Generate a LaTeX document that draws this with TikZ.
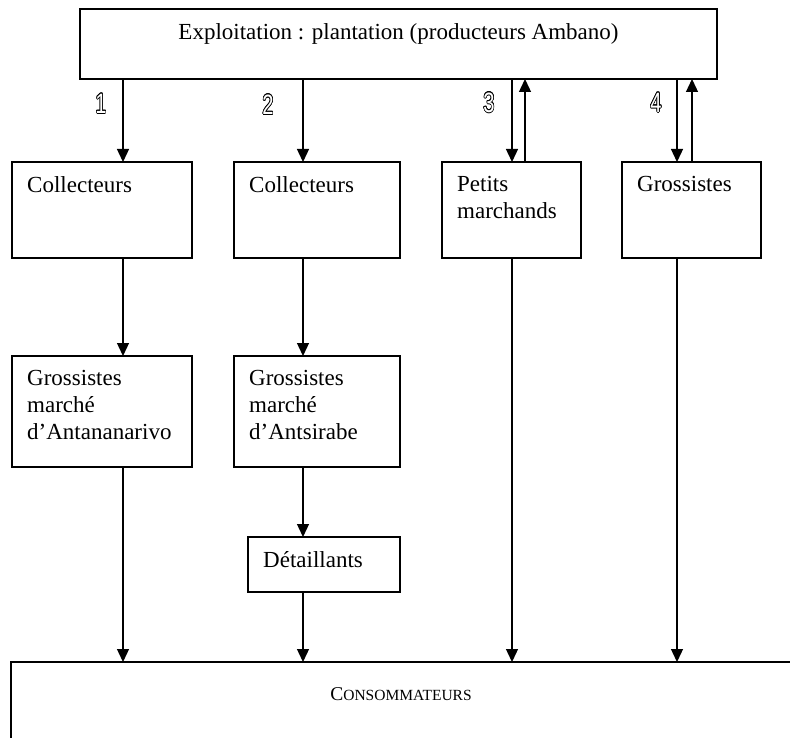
\documentclass[tikz,border=0pt]{standalone}
\usepackage{fontspec}
\setmainfont{Liberation Serif}
\newfontfamily\chiffrefont{Liberation Sans}
\usepackage{contour}
\usetikzlibrary{arrows.meta,calc}

\contourlength{0.8pt}
\newcommand{\numcanal}[1]{{\chiffrefont\fontsize{28}{28}\selectfont\scalebox{0.72}[1]{\color{white}\contour{black}{#1}}}}

\tikzset{
  boite/.style={draw, line width=1.3pt, anchor=north west, inner sep=0pt, outer sep=0pt},
  texte/.style={anchor=north west, inner sep=0pt, align=left, font=\fontsize{23}{26.7}\selectfont},
  fleche/.style={line width=1.3pt, -{Triangle[length=13pt,width=12pt]}}
}

\begin{document}
\begin{tikzpicture}[x=1pt, y=-1pt]
\useasboundingbox (0,0) rectangle (790,738);
\clip (0,0) rectangle (790,738);

    % Draw the plantation box
    \node[boite, minimum width=637pt, minimum height=70pt] (expl) at (80,9) {};
    \node[anchor=base, inner sep=0pt, font=\fontsize{23}{26.7}\selectfont] (explT) at (398.5,40) {Exploitation : plantation (producteurs Ambano)};

    % Draw the first row
    \node[boite, minimum width=180pt, minimum height=96pt] (colA) at (12,162) {};
    \node[boite, minimum width=166pt, minimum height=96pt] (colB) at (234,162) {};
    \node[boite, minimum width=139pt, minimum height=96pt] (petits) at (442,162) {};
    \node[boite, minimum width=139pt, minimum height=96pt] (gros) at (622,162) {};
    \node[texte] (colAT) at ($(colA.north west)+(15,14.5)$) {Collecteurs};
    \node[texte] (colBT) at ($(colB.north west)+(15,14.5)$) {Collecteurs};
    \node[texte] (petitsT) at ($(petits.north west)+(15,14.5)$) {Petits\\marchands};
    \node[texte] (grosT) at ($(gros.north west)+(15,14.5)$) {Grossistes};

    % Draw the market wholesalers
    \node[boite, minimum width=180pt, minimum height=111pt] (grosA) at (12,356) {};
    \node[boite, minimum width=166pt, minimum height=111pt] (grosB) at (234,356) {};
    \node[texte] (grosAT) at ($(grosA.north west)+(15,14.5)$) {Grossistes\\march\'e\\d'Antananarivo};
    \node[texte] (grosBT) at ($(grosB.north west)+(15,14.5)$) {Grossistes\\march\'e\\d'Antsirabe};

    % Draw the retailers
    \node[boite, minimum width=152pt, minimum height=55pt] (det) at (248,537) {};
    \node[texte] (detT) at ($(det.north west)+(15,14.5)$) {D\'etaillants};

    % Draw the consumers (cut by the page)
    \node[boite, minimum width=830pt, minimum height=120pt] (conso) at (11,662) {};
    \node[anchor=base, inner sep=0pt] (consoT) at (401,700) {\fontsize{19.5}{22}\selectfont C\fontsize{15.5}{18}\selectfont ONSOMMATEURS};

    % Channel numbers
    \node (n1) at (101,104) {\numcanal{1}};
    \node (n2) at (268,105) {\numcanal{2}};
    \node (n3) at (489,103) {\numcanal{3}};
    \node (n4) at (656,103) {\numcanal{4}};

    % Arrow columns
    \coordinate (c1) at (123,0);
    \coordinate (c2) at (303,0);
    \coordinate (c3) at (512,0);
    \coordinate (c3u) at (525,0);
    \coordinate (c4) at (677,0);
    \coordinate (c4u) at (692,0);

    % Draw the flows
    \draw[fleche] (expl.south -| c1) -- (colA.north -| c1);
    \draw[fleche] (expl.south -| c2) -- (colB.north -| c2);
    \draw[fleche] (expl.south -| c3) -- (petits.north -| c3);
    \draw[fleche] (petits.north -| c3u) -- (expl.south -| c3u);
    \draw[fleche] (expl.south -| c4) -- (gros.north -| c4);
    \draw[fleche] (gros.north -| c4u) -- (expl.south -| c4u);
    \draw[fleche] (colA.south -| c1) -- (grosA.north -| c1);
    \draw[fleche] (colB.south -| c2) -- (grosB.north -| c2);
    \draw[fleche] (grosB.south -| c2) -- (det.north -| c2);
    \draw[fleche] (grosA.south -| c1) -- (conso.north -| c1);
    \draw[fleche] (det.south -| c2) -- (conso.north -| c2);
    \draw[fleche] (petits.south -| c3) -- (conso.north -| c3);
    \draw[fleche] (gros.south -| c4) -- (conso.north -| c4);
\end{tikzpicture}
\end{document}
